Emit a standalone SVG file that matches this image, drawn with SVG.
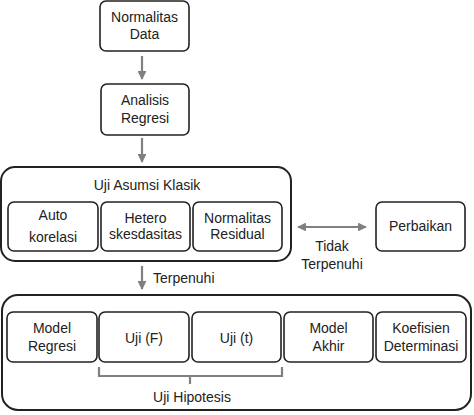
<svg xmlns="http://www.w3.org/2000/svg" width="474" height="415" viewBox="0 0 474 415">
<defs>
<marker id="ah" viewBox="0 0 10 10" refX="9" refY="5" markerWidth="4" markerHeight="4" orient="auto-start-reverse">
<path d="M0,0 L10,5 L0,10 z" fill="#808080"/>
</marker>
<style>
.box{fill:#fff;stroke:#222;stroke-width:1.6}
.big{fill:#fff;stroke:#222;stroke-width:2}
.t{font-family:"Liberation Sans",Arial,sans-serif;font-size:14px;fill:#222;text-anchor:middle}
.c{stroke:#808080;stroke-width:2.2;fill:none}
</style>
</defs>
<rect width="474" height="415" fill="#fff"/>
<g id="normalitas-data">
<rect class="box" x="100" y="1" width="89" height="50" rx="6"/>
<text class="t" x="144.5" y="22">Normalitas</text>
<text class="t" x="144.5" y="39">Data</text>
</g>
<g id="analisis-regresi">
<rect class="box" x="101" y="84" width="88" height="51" rx="6"/>
<text class="t" x="145" y="105">Analisis</text>
<text class="t" x="145" y="123">Regresi</text>
</g>
<g id="uji-asumsi-klasik">
<rect class="big" x="1" y="167" width="290" height="94" rx="14"/>
<text class="t" x="147" y="190">Uji Asumsi Klasik</text>
</g>
<g id="autokorelasi">
<rect class="box" x="8" y="202" width="90" height="49" rx="6"/>
<text class="t" x="53" y="220">Auto</text>
<text class="t" x="53" y="242">korelasi</text>
</g>
<g id="heteroskedasitas">
<rect class="box" x="101" y="202" width="89" height="49" rx="6"/>
<text class="t" x="145.5" y="223">Hetero</text>
<text class="t" x="145.5" y="239">skesdasitas</text>
</g>
<g id="normalitas-residual">
<rect class="box" x="193" y="202" width="89" height="49" rx="6"/>
<text class="t" x="237.5" y="223">Normalitas</text>
<text class="t" x="237.5" y="239">Residual</text>
</g>
<g id="perbaikan">
<rect class="box" x="376" y="202" width="89" height="49" rx="6"/>
<text class="t" x="420.5" y="231">Perbaikan</text>
</g>
<g id="hasil">
<rect class="big" x="2" y="295" width="469" height="115" rx="16"/>
</g>
<g id="model-regresi">
<rect class="box" x="7" y="312" width="90" height="50" rx="6"/>
<text class="t" x="52" y="333">Model</text>
<text class="t" x="52" y="351">Regresi</text>
</g>
<g id="uji-f">
<rect class="box" x="99" y="312" width="90" height="50" rx="6"/>
<text class="t" x="144" y="343">Uji (F)</text>
</g>
<g id="uji-t">
<rect class="box" x="192" y="312" width="89" height="50" rx="6"/>
<text class="t" x="236.5" y="343">Uji (t)</text>
</g>
<g id="model-akhir">
<rect class="box" x="284" y="312" width="89" height="50" rx="6"/>
<text class="t" x="328.5" y="333">Model</text>
<text class="t" x="328.5" y="351">Akhir</text>
</g>
<g id="koefisien-determinasi">
<rect class="box" x="376" y="312" width="90" height="50" rx="6"/>
<text class="t" x="421" y="333">Koefisien</text>
<text class="t" x="421" y="351">Determinasi</text>
</g>
<g id="connectors">
<line class="c" x1="142" y1="56" x2="142" y2="79" marker-end="url(#ah)"/>
<line class="c" x1="142" y1="138" x2="142" y2="162" marker-end="url(#ah)"/>
<line class="c" x1="142" y1="266" x2="142" y2="289" marker-end="url(#ah)"/>
<line class="c" x1="298" y1="227" x2="366" y2="227" marker-start="url(#ah)" marker-end="url(#ah)"/>
<path class="c" d="M99,367 V376 H282 V367 M190,376 V384"/>
</g>
<g id="labels">
<text class="t" x="153" y="283" style="text-anchor:start">Terpenuhi</text>
<text class="t" x="332" y="251">Tidak</text>
<text class="t" x="332" y="269">Terpenuhi</text>
<text class="t" x="192" y="402">Uji Hipotesis</text>
</g>
</svg>
